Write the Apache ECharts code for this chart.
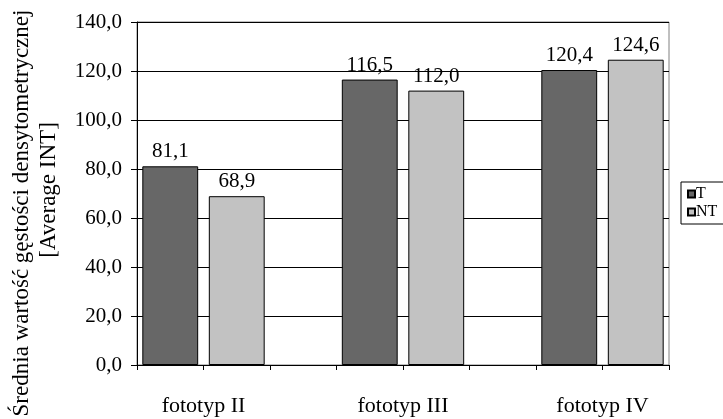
<!DOCTYPE html>
<html>
<head>
<meta charset="utf-8">
<script src="https://cdn.jsdelivr.net/npm/echarts@6/dist/echarts.min.js"></script>
<style>
html,body{margin:0;padding:0;background:#fff;}
#chart{width:723px;height:419px;}
</style>
</head>
<body>
<div id="chart"></div>
<script>
// Slots: each bar is its own slot, one empty slot between groups
const slots = ['II-T', 'II-NT', 'gap1', 'III-T', 'III-NT', 'gap2', 'IV-T', 'IV-NT'];
const groupLabels = ['fototyp II', 'fototyp III', 'fototyp IV'];
const groupPositions = [1, 4, 7]; // slot boundaries under each group
const seriesNames = ['T', 'NT'];
const valuesT = [81.1, null, null, 116.5, null, null, 120.4, null];
const valuesNT = [null, 68.9, null, null, 112.0, null, null, 124.6];
const yTicks = [0, 20, 40, 60, 80, 100, 120, 140];
const titleLine1 = 'Średnia wartość gęstości densytometrycznej';
const titleLine2 = '[Average INT]';

const FONT = '"Liberation Serif", "Times New Roman", serif';
const fmt = v => Number(v).toFixed(1).replace('.', ',');

const chart = echarts.init(document.getElementById('chart'), null, {renderer: 'canvas'});
const labelCfg = {
  show: true, position: 'top', distance: 4,
  fontFamily: FONT, fontSize: 21, color: '#000',
  formatter: p => fmt(p.value)
};
chart.setOption({
  animation: false,
  backgroundColor: '#fff',
  grid: {left: 137, right: 54, top: 22, bottom: 54, show: true, borderColor: '#808080', borderWidth: 1, backgroundColor: 'transparent'},
  legend: {
    orient: 'vertical', left: 681, top: 182,
    data: seriesNames,
    icon: 'rect', itemWidth: 7, itemHeight: 7, itemGap: 2,
    borderColor: '#000', borderWidth: 1, padding: [4, 10, 4, 6],
    textStyle: {fontFamily: FONT, fontSize: 16, color: '#000', padding: [0, 0, 0, -4]}
  },
  xAxis: [{
    type: 'category', data: slots, boundaryGap: true,
    axisLine: {show: true, lineStyle: {color: '#000', width: 1}},
    axisTick: {show: true, length: 5, interval: 0, lineStyle: {color: '#000'}},
    axisLabel: {show: false},
    splitLine: {show: false}
  }, {
    type: 'value', min: 0, max: slots.length, interval: 1, position: 'bottom',
    axisLine: {show: false}, axisTick: {show: false}, splitLine: {show: false},
    axisLabel: {
      show: true, margin: 30, fontFamily: FONT, fontSize: 22, color: '#000',
      showMinLabel: true, showMaxLabel: true,
      formatter: v => { const i = groupPositions.indexOf(v); return i >= 0 ? groupLabels[i] : ''; }
    }
  }],
  yAxis: {
    type: 'value', min: yTicks[0], max: yTicks[yTicks.length - 1], interval: 20,
    axisLine: {show: true, lineStyle: {color: '#000', width: 1}},
    axisTick: {show: true, length: 6, lineStyle: {color: '#000'}},
    axisLabel: {margin: 15, fontFamily: FONT, fontSize: 21, color: '#000', formatter: v => fmt(v)},
    splitLine: {show: true, lineStyle: {color: '#000', width: 1}}
  },
  series: [{
    name: seriesNames[0], type: 'bar', data: valuesT, xAxisIndex: 0,
    barWidth: '84%', barGap: '-100%',
    itemStyle: {color: '#676767', borderColor: '#000', borderWidth: 1},
    label: labelCfg
  }, {
    name: seriesNames[1], type: 'bar', data: valuesNT, xAxisIndex: 0,
    barWidth: '84%', barGap: '-100%',
    itemStyle: {color: '#c2c2c2', borderColor: '#000', borderWidth: 1},
    label: labelCfg
  }],
  graphic: [{
    type: 'text', x: 22, y: 213, rotation: Math.PI / 2,
    style: {text: titleLine1, font: '23px ' + FONT, fill: '#000', textAlign: 'center', textVerticalAlign: 'middle'}
  }, {
    type: 'text', x: 49, y: 190, rotation: Math.PI / 2,
    style: {text: titleLine2, font: '23px ' + FONT, fill: '#000', textAlign: 'center', textVerticalAlign: 'middle'}
  }]
});
</script>
</body>
</html>
